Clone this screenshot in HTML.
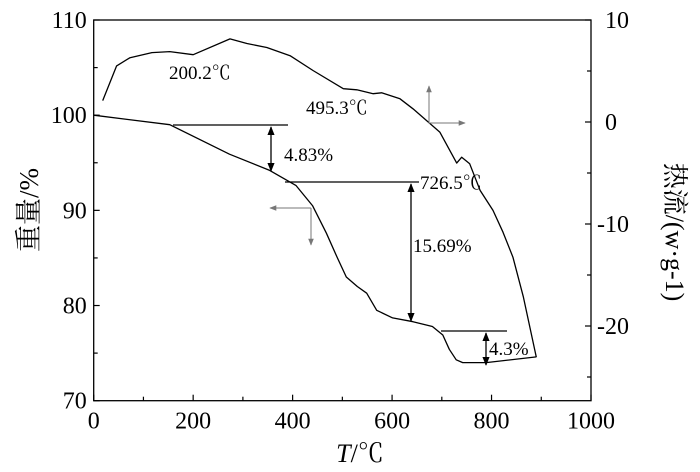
<!DOCTYPE html>
<html><head><meta charset="utf-8">
<style>
html,body{margin:0;padding:0;background:#fff;}
svg{display:block;font-family:"Liberation Serif","Noto Serif CJK SC",serif;}
</style></head>
<body>
<svg id="chart" width="700" height="472" viewBox="0 0 700 472" xmlns="http://www.w3.org/2000/svg">
<defs>
<marker id="ah" viewBox="0 0 10 10" refX="9" refY="5" markerWidth="7" markerHeight="7" orient="auto-start-reverse"><path d="M0,1 L10,5 L0,9 z" fill="#000"/></marker>
<marker id="ahg" viewBox="0 0 10 10" refX="9" refY="5" markerWidth="7" markerHeight="7" orient="auto-start-reverse"><path d="M0,1 L10,5 L0,9 z" fill="#777"/></marker>
</defs>
<g id="axes"></g>
<g id="series"></g>
<g id="annot">
  <line x1="173" y1="125" x2="288" y2="125" stroke="#000" stroke-width="1.2"/>
  <line x1="271" y1="127" x2="271" y2="171" stroke="#000" stroke-width="1.3" marker-start="url(#ah)" marker-end="url(#ah)"/>
  <text x="284" y="161" font-size="19">4.83%</text>
  <line x1="285" y1="182" x2="419" y2="182" stroke="#000" stroke-width="1.2"/>
  <line x1="411" y1="184" x2="411" y2="321" stroke="#000" stroke-width="1.3" marker-start="url(#ah)" marker-end="url(#ah)"/>
  <text x="420" y="189" font-size="19">726.5℃</text>
  <text x="413" y="252" font-size="19">15.69%</text>
  <line x1="441" y1="331" x2="507" y2="331" stroke="#000" stroke-width="1.2"/>
  <line x1="486" y1="333" x2="486" y2="365" stroke="#000" stroke-width="1.3" marker-start="url(#ah)" marker-end="url(#ah)"/>
  <text x="489" y="355" font-size="19">4.3%</text>
  <text x="169" y="79" font-size="19">200.2℃</text>
  <text x="306" y="114" font-size="19">495.3℃</text>
  <line x1="429" y1="123" x2="429" y2="86" stroke="#777" stroke-width="1" marker-end="url(#ahg)"/>
  <line x1="429" y1="123" x2="465" y2="123" stroke="#777" stroke-width="1" marker-end="url(#ahg)"/>
  <line x1="311" y1="208" x2="270" y2="208" stroke="#777" stroke-width="1" marker-end="url(#ahg)"/>
  <line x1="311" y1="208" x2="311" y2="245" stroke="#777" stroke-width="1" marker-end="url(#ahg)"/>
</g>
</svg>
<script>
const xTicks = [0, 200, 400, 600, 800, 1000];
const yLeftTicks = [70, 80, 90, 100, 110];
const yRightTicks = [-20, -10, 0, 10];
const tgTemp = [0, 153, 273, 354, 407, 440, 468, 490, 508, 530, 549, 569, 601, 642, 681, 702, 715, 729, 742, 789, 890];
const tgWeight = [100, 99.0, 95.9, 94.2, 92.6, 90.5, 87.6, 85.0, 83.0, 82.0, 81.3, 79.5, 78.7, 78.3, 77.8, 76.9, 75.4, 74.3, 74.0, 74.0, 74.6];
const dscTemp = [18, 46, 73, 117, 153, 200, 274, 308, 348, 395, 441, 502, 529, 562, 579, 616, 642, 696, 730, 740, 756, 777, 803, 823, 843, 864, 890];
const dscHeat = [2.1, 5.5, 6.3, 6.8, 6.9, 6.6, 8.15, 7.7, 7.3, 6.5, 5.05, 3.26, 3.16, 2.77, 2.86, 2.27, 1.29, -0.99, -4.03, -3.45, -4.1, -6.71, -8.67, -10.8, -13.25, -17.17, -23.05];

const L = 93.7, R = 591, T = 20, B = 400.7;
const xS = v => L + (v - 0) / 1000 * (R - L);
const yL = v => B - (v - 70) / 40 * (B - T);
const yR = v => 122 - v * 10.2;
const NS = 'http://www.w3.org/2000/svg';
const axes = document.getElementById('axes');
const series = document.getElementById('series');
function mk(tag, attrs, parent) {
  const e = document.createElementNS(NS, tag);
  for (const k in attrs) e.setAttribute(k, attrs[k]);
  parent.appendChild(e);
  return e;
}
const frame = mk('rect', {x: L, y: T, width: R - L, height: B - T, fill: 'none', stroke: '#000', 'stroke-width': 1.3}, axes);



for (let v = 0; v <= 1000; v += 100) {
  const tk = mk('line', {x1: xS(v), x2: xS(v), y1: B, y2: B - (v % 200 === 0 ? 6 : 4), stroke: '#000', 'stroke-width': 1.2}, axes);
  
  
}
xTicks.forEach(v => {
  const t = mk('text', {x: xS(v), y: B + 28, 'text-anchor': 'middle', 'font-size': 24}, axes);
  t.textContent = v;
  
  
});
for (let v = 70; v <= 110; v += 5) {
  const tk = mk('line', {x1: L, x2: L + (v % 10 === 0 ? 6 : 4), y1: yL(v), y2: yL(v), stroke: '#000', 'stroke-width': 1.2}, axes);
  
  
}
yLeftTicks.forEach(v => {
  const t = mk('text', {x: L - 7, y: yL(v) + 8, 'text-anchor': 'end', 'font-size': 24}, axes);
  t.textContent = v;
  
  
});
for (let v = -25; v <= 10; v += 5) {
  const tk = mk('line', {x1: R, x2: R - (v % 10 === 0 ? 6 : 4), y1: yR(v), y2: yR(v), stroke: '#000', 'stroke-width': 1.2}, axes);
  
  
}
yRightTicks.forEach(v => {
  const t = mk('text', {x: R + 14, y: yR(v) + 8, 'text-anchor': 'start', 'font-size': 24}, axes);
  t.textContent = v < 0 ? '-' + Math.abs(v) : v;
  if (v < 0) t.setAttribute('x', R + 6);
  
  
});
const xt = mk('text', {x: 360, y: 462, 'text-anchor': 'middle', 'font-size': 26}, axes);
xt.innerHTML = '<tspan font-style="italic">T</tspan>/℃';


const yt = mk('text', {x: 0, y: 0, 'text-anchor': 'middle', 'font-size': 27, transform: 'translate(38,210) rotate(-90)'}, axes);
yt.textContent = '重量/%';


const yt2 = mk('text', {x: 0, y: 0, 'text-anchor': 'middle', 'font-size': 26, transform: 'translate(666,232) rotate(90)'}, axes);
yt2.textContent = '热流/(w·g-1)';



const tgPath = mk('path', {d: tgTemp.map((t, i) => (i ? 'L' : 'M') + xS(t).toFixed(1) + ',' + yL(tgWeight[i]).toFixed(1)).join(' '), fill: 'none', stroke: '#000', 'stroke-width': 1.3, 'stroke-linejoin': 'round'}, series);


const dscPath = mk('path', {d: dscTemp.map((t, i) => (i ? 'L' : 'M') + xS(t).toFixed(1) + ',' + yR(dscHeat[i]).toFixed(1)).join(' '), fill: 'none', stroke: '#000', 'stroke-width': 1.3, 'stroke-linejoin': 'round'}, series);


const n = tgTemp.length - 1, m = dscTemp.length - 1;
const join = mk('line', {x1: xS(tgTemp[n]), y1: yL(tgWeight[n]), x2: xS(dscTemp[m]), y2: yR(dscHeat[m]), stroke: '#000', 'stroke-width': 1.3}, series);


</script>
</body></html>
